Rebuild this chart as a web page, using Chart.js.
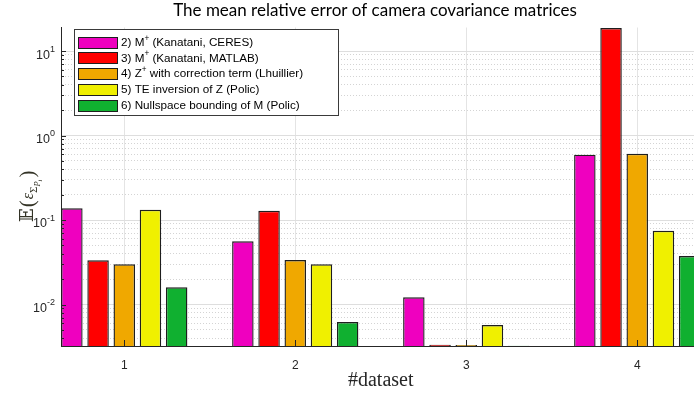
<!DOCTYPE html>
<html>
<head>
<meta charset="utf-8">
<script src="https://cdn.jsdelivr.net/npm/chart.js@4/dist/chart.umd.min.js"></script>
<style>
  html, body { margin: 0; padding: 0; overflow: hidden; background: #fff; width: 694px; height: 396px; }
  canvas { display: block; }
</style>
</head>
<body>
<canvas id="chart" width="702" height="396"></canvas>
<script>
// ---- data -------------------------------------------------------------
const categories = [1, 2, 3, 4];
const xTickLabels = ['1', '2', '3', '4'];
const yTickExponents = [-2, -1, 0, 1];

const seriesLabels = [
  '2) M⁺ (Kanatani, CERES)',
  '3) M⁺ (Kanatani, MATLAB)',
  '4) Z⁺ with correction term (Lhuillier)',
  '5) TE inversion of Z (Polic)',
  '6) Nullspace bounding of M (Polic)'
];
const kanataniCeres    = [0.1375, 0.0560, 0.01220, 0.593];
const kanataniMatlab   = [0.0334, 0.1288, 0.00334, 18.7];
const lhuillierZplus   = [0.0299, 0.0336, 0.00333, 0.609];
const policTEInversion = [0.1324, 0.0299, 0.00572, 0.0747];
const policNullspace   = [0.0160, 0.0062, 0.00326, 0.0375];

const seriesValues = [kanataniCeres, kanataniMatlab, lhuillierZplus, policTEInversion, policNullspace];
const seriesColors = ['#ef00bf', '#ff0000', '#f0a800', '#f0f000', '#10b030'];

const AXIS_COLOR = '#262626';
const isDecade = v => Math.abs(Math.log10(v) - Math.round(Math.log10(v))) < 1e-9;

// ---- helpers ----------------------------------------------------------
// draw text that may contain a "⁺" as a raised small "+"
function drawSupText(ctx, text, x, y, size, family) {
  const parts = text.split('⁺');
  let cx = x;
  parts.forEach((p, i) => {
    ctx.font = size + 'px ' + family;
    ctx.fillText(p, cx, y);
    cx += ctx.measureText(p).width;
    if (i < parts.length - 1) {
      ctx.font = (size * 0.7) + 'px ' + family;
      ctx.fillText('+', cx, y - size * 0.38);
      cx += ctx.measureText('+').width;
    }
  });
}

// ---- decorations drawn on the canvas ----------------------------------
const decorations = {
  id: 'decorations',
  afterDatasetsDraw(chart) {
    const { ctx, chartArea: a, scales: { x, y } } = chart;
    ctx.save();
    ctx.strokeStyle = AXIS_COLOR;
    ctx.lineWidth = 1;
    // inward tick marks on the y axis
    y.ticks.forEach(t => {
      const py = Math.round(y.getPixelForValue(t.value)) + 0.5;
      const len = isDecade(t.value) ? 5 : 3;
      ctx.beginPath();
      ctx.moveTo(a.left, py);
      ctx.lineTo(a.left + len, py);
      ctx.stroke();
    });
    // inward tick marks on the x axis
    categories.forEach(c => {
      const px = Math.round(x.getPixelForValue(c)) + 0.5;
      ctx.beginPath();
      ctx.moveTo(px, a.bottom);
      ctx.lineTo(px, a.bottom - 6);
      ctx.stroke();
    });
    ctx.restore();
  },
  afterDraw(chart) {
    const { ctx, chartArea: a, scales: { x, y } } = chart;
    ctx.save();
    ctx.fillStyle = AXIS_COLOR;

    // y tick labels 10^n
    ctx.textBaseline = 'middle';
    ctx.textAlign = 'left';
    yTickExponents.forEach(e => {
      const py = y.getPixelForValue(Math.pow(10, e));
      const base = '10';
      const exp = e < 0 ? '-' + (-e) : String(e);
      ctx.font = '12.5px "Liberation Sans", Arial, sans-serif';
      const wb = ctx.measureText(base).width;
      ctx.font = '9px "Liberation Sans", Arial, sans-serif';
      const we = ctx.measureText(exp).width;
      const right = a.left - 6;
      const left = right - wb - we;
      ctx.font = '12.5px "Liberation Sans", Arial, sans-serif';
      ctx.fillText(base, left, py + 4);
      ctx.font = '9px "Liberation Sans", Arial, sans-serif';
      ctx.fillText(exp, left + wb, py - 2);
    });

    // x tick labels
    ctx.textAlign = 'center';
    ctx.font = '12px "Liberation Sans", Arial, sans-serif';
    categories.forEach((c, i) => {
      ctx.fillText(xTickLabels[i], x.getPixelForValue(c), 366);
    });

    // x axis title
    ctx.font = '20px "Liberation Serif", "DejaVu Serif", serif';
    ctx.fillText('#dataset', (a.left + a.right) / 2, 381);

    // chart title
    ctx.fillStyle = '#000';
    ctx.font = '17px Lato, "Open Sans", sans-serif';
    ctx.fillText('The mean relative error of camera covariance matrices', 375, 11);

    // y axis title: E(eps_{Sigma_{P_i}}) rotated
    ctx.save();
    ctx.translate(27, 192);
    ctx.rotate(-Math.PI / 2);
    ctx.fillStyle = '#333326';
    ctx.textAlign = 'left';
    ctx.textBaseline = 'alphabetic';
    let cx = -30;
    const by = 6;
    ctx.font = '18px "DejaVu Serif", "DejaVu Sans", serif';
    ctx.fillText('𝔼', cx, by); cx += ctx.measureText('𝔼').width + 1;
    ctx.font = '21px "Liberation Serif", serif';
    ctx.fillText('(', cx, by + 1); cx += ctx.measureText('(').width + 1;
    ctx.font = 'italic 16px "Liberation Serif", serif';
    ctx.fillText('ε', cx, by); cx += ctx.measureText('ε').width;
    ctx.font = '11px "Liberation Serif", serif';
    ctx.fillText('Σ', cx, by + 4); cx += ctx.measureText('Σ').width;
    ctx.font = 'italic 8.5px "Liberation Serif", serif';
    ctx.fillText('P', cx, by + 7); cx += ctx.measureText('P').width;
    ctx.font = 'italic 6.5px "Liberation Serif", serif';
    ctx.fillText('i', cx, by + 9); cx += ctx.measureText('i').width + 2;
    ctx.font = '21px "Liberation Serif", serif';
    ctx.fillText(')', cx, by + 1);
    ctx.restore();

    // legend box
    const lx = 74.5, ly = 29.5, lw = 264, lh = 86;
    ctx.fillStyle = '#fff';
    ctx.fillRect(lx, ly, lw, lh);
    ctx.strokeStyle = '#3a3a3a';
    ctx.lineWidth = 1;
    ctx.strokeRect(lx, ly, lw, lh);
    ctx.textAlign = 'left';
    ctx.textBaseline = 'middle';
    seriesLabels.forEach((lab, i) => {
      const cy = 42.2 + i * 15.7;
      ctx.fillStyle = seriesColors[i];
      ctx.fillRect(78.5, Math.round(cy - 5.5) + 0.5, 39, 11);
      ctx.strokeStyle = '#1e1e1e';
      ctx.strokeRect(78.5, Math.round(cy - 5.5) + 0.5, 39, 11);
      ctx.fillStyle = '#000';
      drawSupText(ctx, lab, 121, cy + 0.5, 11.7, '"Liberation Sans", Arial, sans-serif');
    });
    ctx.restore();
  }
};

// ---- chart ------------------------------------------------------------
new Chart(document.getElementById('chart'), {
  type: 'bar',
  data: {
    datasets: seriesValues.map((vals, i) => ({
      label: seriesLabels[i],
      data: categories.map((c, j) => ({ x: c, y: vals[j] })),
      backgroundColor: seriesColors[i],
      borderColor: '#1e1e1e',
      borderWidth: 1.4,
      borderSkipped: 'start',
      categoryPercentage: 0.766,
      barPercentage: 0.82
    }))
  },
  options: {
    responsive: false,
    animation: false,
    layout: { padding: { left: 61, top: 27.5, right: 1.5, bottom: 50 } },
    plugins: { legend: { display: false }, tooltip: { enabled: false }, title: { display: false } },
    scales: {
      x: {
        type: 'linear',
        min: 0.63,
        max: 4.37,
        offset: false,
        afterBuildTicks: s => { s.ticks = categories.map(v => ({ value: v })); },
        ticks: { display: false },
        grid: { color: '#e4e4e4', lineWidth: 1, drawTicks: false, offset: false },
        border: { color: AXIS_COLOR, width: 1 }
      },
      y: {
        type: 'logarithmic',
        min: 0.00323,
        max: 19,
        afterBuildTicks: s => {
          const t = [];
          for (let e = -3; e <= 1; e++) {
            for (let m = 1; m <= 9; m++) {
              const v = m * Math.pow(10, e);
              if (v > s.min * 1.0001 && v < s.max) t.push({ value: v, major: m === 1 });
            }
          }
          s.ticks = t;
        },
        ticks: { display: false },
        grid: {
          drawTicks: false,
          lineWidth: 1,
          color: c => (c.tick && isDecade(c.tick.value)) ? '#dedede' : '#d4d4d4'
        },
        border: {
          color: AXIS_COLOR,
          width: 1,
          dash: c => (c.tick && !isDecade(c.tick.value)) ? [1, 2] : []
        }
      }
    }
  },
  plugins: [decorations]
});
</script>
</body>
</html>
